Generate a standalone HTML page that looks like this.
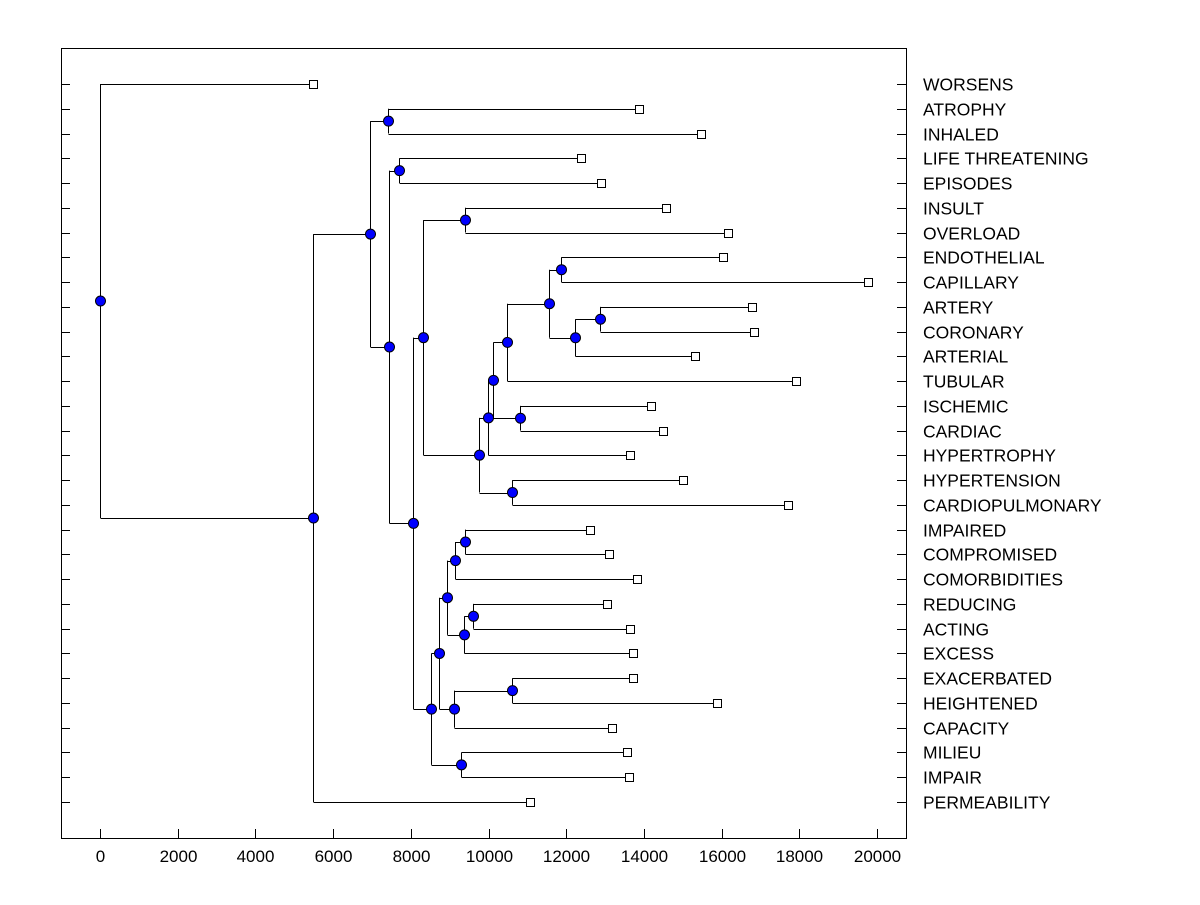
<!DOCTYPE html>
<html><head><meta charset="utf-8"><style>
html,body{margin:0;padding:0;background:#fff;}
svg text{font-family:"Liberation Sans",Arial,sans-serif;fill:#000;}
</style></head><body>
<svg id="chart" width="1200" height="900" viewBox="0 0 1200 900" xmlns="http://www.w3.org/2000/svg">
<rect x="61.5" y="48.5" width="845" height="790" fill="none" stroke="#000" stroke-width="1"/>
<g id="xaxis"></g>
<g id="yaxis"></g>
<g id="tree"></g>
<g id="labels"></g>
</svg>
<script>
const leafNames = ["WORSENS","ATROPHY","INHALED","LIFE THREATENING","EPISODES","INSULT","OVERLOAD","ENDOTHELIAL","CAPILLARY","ARTERY","CORONARY","ARTERIAL","TUBULAR","ISCHEMIC","CARDIAC","HYPERTROPHY","HYPERTENSION","CARDIOPULMONARY","IMPAIRED","COMPROMISED","COMORBIDITIES","REDUCING","ACTING","EXCESS","EXACERBATED","HEIGHTENED","CAPACITY","MILIEU","IMPAIR","PERMEABILITY"];
const leafValues = [5483,13874,15470,12381,12896,14569,16165,16036,19768,16782,16834,15315,17915,14183,14492,13642,15006,17709,12613,13102,13822,13050,13642,13719,13719,15882,13179,13565,13616,11068];
// merges: child refs "L#" = leaf index, "N#" = earlier merge index
const mergeHeights = [7413,7696,9395,11866,12870,12226,11557,10476,10811,10116,9987,10605,9755,8314,9395,9138,9601,9369,8932,10605,9112,8726,9292,8520,8057,7440,6950,5483,0];
const mergeLeft  = ["L1","L3","L5","L7","L9","N4","N3","N6","L13","N7","N9","L16","N10","N2","L18","N14","L21","N16","N15","L24","N19","N18","L27","N21","N13","N1","N0","N26","L0"];
const mergeRight = ["L2","L4","L6","L8","L10","L11","N5","L12","L14","N8","L15","L17","N11","N12","L19","L20","L22","L23","N17","L25","L26","N20","L28","N22","N23","N24","N25","L29","N27"];
const xTicks = [0,2000,4000,6000,8000,10000,12000,14000,16000,18000,20000];

const NS="http://www.w3.org/2000/svg";
const X0=100, XS=777/20000, Y0=84, YS=(802-84)/29;
const xp=v=>X0+v*XS, yp=i=>Y0+i*YS;
function mk(tag,attrs,parent){const e=document.createElementNS(NS,tag);for(const k in attrs)e.setAttribute(k,attrs[k]);parent.appendChild(e);return e;}
const xa=document.getElementById('xaxis'), ya=document.getElementById('yaxis'), tree=document.getElementById('tree'), lab=document.getElementById('labels');

xTicks.forEach(t=>{
  const x=Math.round(xp(t))+0.5;
  const l=mk('line',{x1:x,x2:x,y1:829,y2:838,stroke:'#000'},xa);
  
  
  const tx=mk('text',{x:x,y:862,'text-anchor':'middle','font-size':'17'},xa);
  
  
  tx.textContent=t;
});
leafNames.forEach((n,i)=>{
  const y=Math.round(yp(i))+0.5;
  const l=mk('line',{x1:61,x2:70,y1:y,y2:y,stroke:'#000'},ya);
  
  
  const r=mk('line',{x1:897,x2:906,y1:y,y2:y,stroke:'#000'},ya);
  
  
  const tx=mk('text',{x:923,y:y+6,'font-size':'17.5'},lab);
  
  
  tx.textContent=n;
});

const pos={};
leafValues.forEach((v,i)=>{pos['L'+i]={x:xp(v),y:yp(i),leaf:true};});
const lines=mk('g',{},tree), marks=mk('g',{},tree);
mergeHeights.forEach((h,k)=>{
  const a=pos[mergeLeft[k]], b=pos[mergeRight[k]];
  const x=Math.round(xp(h))+0.5, y=(a.y+b.y)/2;
  pos['N'+k]={x:x,y:y};
  const v=mk('line',{x1:x,x2:x,y1:a.y,y2:b.y,stroke:'#000'},lines);
  
  
  [a,b].forEach(c=>{
    const yy=Math.round(c.y)+0.5;
    const hl=mk('line',{x1:x,x2:c.x,y1:yy,y2:yy,stroke:'#000'},lines);
    
    
  });
});
mergeHeights.forEach((h,k)=>{
  const p=pos['N'+k];
  const c=mk('circle',{cx:p.x,cy:p.y,r:5,fill:'#0000ff',stroke:'#000','stroke-width':1},marks);
  
  
});
leafValues.forEach((v,i)=>{
  const p=pos['L'+i];
  const r=mk('rect',{x:Math.round(p.x)-3.5,y:Math.round(p.y)-3.5,width:8,height:8,fill:'#fff',stroke:'#000'},marks);
  
  
});
</script>
</body></html>
